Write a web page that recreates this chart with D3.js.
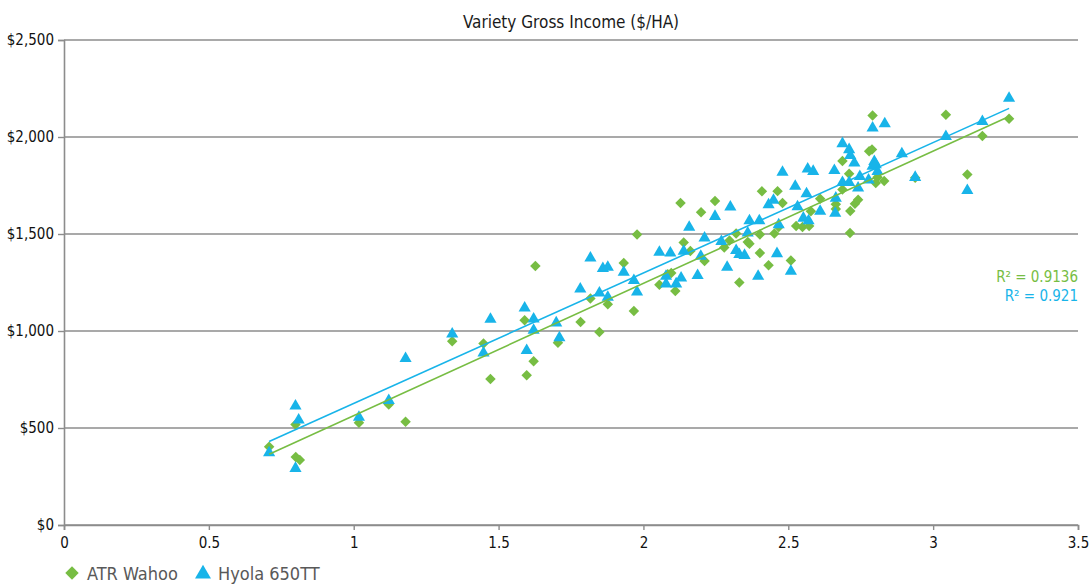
<!DOCTYPE html>
<html>
<head>
<meta charset="utf-8">
<script src="https://cdn.jsdelivr.net/npm/d3@7"></script>
<style>
  body { margin: 0; background: #fff; }
  svg text { font-family: "Liberation Sans Narrow", "DejaVu Sans Condensed", "Roboto", sans-serif; }
</style>
</head>
<body>
<div id="chart"></div>
<script>
// ATR Wahoo (x = yield-ish index, y = gross income $/HA)
var wahooX = [0.708,0.80,0.814,0.799,1.018,1.121,1.179,1.340,1.448,1.472,1.590,1.597,1.621,1.627,1.705,1.783,1.817,1.848,1.877,1.932,
  1.967,1.978,2.055,2.084,2.096,2.110,2.128,2.139,2.162,2.199,2.211,2.247,2.279,2.297,2.320,2.331,2.360,2.366,2.402,2.402,
  2.409,2.432,2.452,2.463,2.467,2.480,2.509,2.527,2.549,2.572,2.578,2.610,2.664,2.664,2.687,2.687,2.710,2.713,2.714,2.730,
  2.741,2.779,2.789,2.791,2.802,2.808,2.831,2.938,3.044,3.118,3.170,3.262];
var wahooY = [403,350,335,518,527,621,532,947,936,752,1056,772,844,1335,939,1047,1167,995,1138,1351,
  1103,1498,1239,1292,1299,1206,1660,1456,1412,1612,1361,1670,1430,1467,1502,1250,1459,1450,1498,1402,
  1720,1339,1502,1721,1536,1660,1364,1541,1536,1541,1617,1682,1653,1629,1876,1729,1811,1505,1618,1656,
  1677,1926,1936,2111,1763,1793,1773,1790,2115,1807,2005,2094];

// Hyola 650TT
var hyolaX = [0.708,0.799,0.810,0.799,1.018,1.121,1.179,1.340,1.448,1.472,1.590,1.597,1.621,1.621,1.699,1.710,1.782,1.817,1.848,1.860,
  1.877,1.877,1.932,1.967,1.978,2.055,2.078,2.093,2.113,2.130,2.139,2.158,2.187,2.198,2.211,2.247,2.269,2.289,2.300,2.320,
  2.331,2.349,2.360,2.366,2.396,2.400,2.461,2.467,2.432,2.449,2.480,2.509,2.524,2.532,2.552,2.563,2.567,2.570,2.586,2.610,
  2.659,2.662,2.664,2.687,2.687,2.710,2.714,2.710,2.728,2.741,2.747,2.777,2.791,2.791,2.797,2.802,2.808,2.833,2.892,2.938,
  3.044,3.118,3.170,3.262,2.078];
var hyolaY = [377,618,546,297,561,647,863,990,892,1066,1124,905,1067,1009,1047,970,1222,1381,1201,1327,
  1334,1179,1308,1265,1206,1411,1287,1407,1248,1278,1416,1540,1291,1390,1484,1596,1467,1334,1644,1420,
  1399,1395,1510,1574,1287,1574,1404,1553,1656,1679,1824,1313,1751,1646,1587,1713,1840,1574,1828,1622,
  1832,1612,1690,1971,1771,1940,1910,1771,1871,1742,1802,1783,2051,1854,1879,1862,1828,2074,1919,1797,
  2008,1729,2085,2205,1247];

var seriesNames = ["ATR Wahoo", "Hyola 650TT"];
var r2Labels = ["R\u00B2 = 0.9136", "R\u00B2 = 0.921"];
var xTicks = [0, 0.5, 1, 1.5, 2, 2.5, 3, 3.5];
var yTicks = [0, 500, 1000, 1500, 2000, 2500];
var chartTitle = "Variety Gross Income ($/HA)";

var svgWidth = 1090;
var svgHeight = 585;
var margin = { top: 40, right: 12, bottom: 60, left: 64 };
var width = svgWidth - margin.left - margin.right;
var height = svgHeight - margin.top - margin.bottom;

var green = "#77bd43";
var blue = "#18b4e9";
var gridColor = "#8c8c8c";

var svg = d3.select("#chart").append("svg")
  .attr("width", svgWidth)
  .attr("height", svgHeight);

var chartGroup = svg.append("g")
  .attr("transform", `translate(${margin.left}, ${margin.top})`);

var xScale = d3.scaleLinear().domain([0, 3.5]).range([0, width]);
var yScale = d3.scaleLinear().domain([0, 2500]).range([height, 0]);

// gridlines
chartGroup.append("g")
  .selectAll("line")
  .data(yTicks)
  .enter()
  .append("line")
  .attr("x1", 0)
  .attr("x2", width)
  .attr("y1", d => yScale(d))
  .attr("y2", d => yScale(d))
  .attr("stroke", gridColor)
  .attr("stroke-width", 1.6);

// axes
var leftAxis = d3.axisLeft(yScale).tickValues(yTicks).tickSize(6).tickPadding(4)
  .tickFormat(d => "$" + d3.format(",")(d));
var bottomAxis = d3.axisBottom(xScale).tickValues(xTicks).tickSize(5).tickPadding(4)
  .tickFormat(d => d);

var yAxisG = chartGroup.append("g").call(leftAxis);
var xAxisG = chartGroup.append("g").attr("transform", `translate(0,${height})`).call(bottomAxis);

[yAxisG, xAxisG].forEach(g => {
  g.select(".domain").attr("stroke", gridColor).attr("stroke-width", 1.6);
  g.selectAll(".tick line").attr("stroke", gridColor).attr("stroke-width", 1.4);
  g.selectAll("text").attr("fill", "#111").style("font-size", "15px");
});
xAxisG.selectAll("text").attr("dy", "0.9em");

// data
var wahoo = wahooX.map((x, i) => ({ x: x, y: wahooY[i] }));
var hyola = hyolaX.map((x, i) => ({ x: x, y: hyolaY[i] }));

var diamond = d3.symbol().type(d3.symbolSquare).size(55);
var triangle = d3.symbol().type(d3.symbolTriangle).size(64);

chartGroup.append("g").selectAll("path")
  .data(wahoo)
  .enter()
  .append("path")
  .attr("d", diamond)
  .attr("transform", d => `translate(${xScale(d.x)},${yScale(d.y)}) rotate(45)`)
  .attr("fill", green);

chartGroup.append("g").selectAll("path")
  .data(hyola)
  .enter()
  .append("path")
  .attr("d", triangle)
  .attr("transform", d => `translate(${xScale(d.x)},${yScale(d.y) + 1})`)
  .attr("fill", blue);

// linear trend lines (least squares)
function fitLine(pts) {
  var mx = d3.mean(pts, d => d.x), my = d3.mean(pts, d => d.y);
  var sxy = d3.sum(pts, d => (d.x - mx) * (d.y - my));
  var sxx = d3.sum(pts, d => (d.x - mx) * (d.x - mx));
  var b = sxy / sxx, a = my - b * mx;
  var ext = d3.extent(pts, d => d.x);
  return ext.map(x => ({ x: x, y: a + b * x }));
}

var line = d3.line().x(d => xScale(d.x)).y(d => yScale(d.y));

chartGroup.append("path")
  .datum(fitLine(wahoo))
  .attr("d", line)
  .attr("fill", "none")
  .attr("stroke", green)
  .attr("stroke-width", 1.6);

chartGroup.append("path")
  .datum(fitLine(hyola))
  .attr("d", line)
  .attr("fill", "none")
  .attr("stroke", blue)
  .attr("stroke-width", 1.6);

// R squared labels
chartGroup.append("text")
  .attr("x", width)
  .attr("y", 242)
  .attr("text-anchor", "end")
  .attr("fill", green)
  .style("font-size", "15px")
  .text(r2Labels[0]);

chartGroup.append("text")
  .attr("x", width)
  .attr("y", 261)
  .attr("text-anchor", "end")
  .attr("fill", blue)
  .style("font-size", "15px")
  .text(r2Labels[1]);

// title
svg.append("text")
  .attr("x", margin.left + width / 2)
  .attr("y", 28)
  .attr("text-anchor", "middle")
  .attr("fill", "#1a1a1a")
  .style("font-size", "17px")
  .text(chartTitle);

// legend
var legend = svg.append("g").attr("transform", "translate(72, 573)");
legend.append("path")
  .attr("d", d3.symbol().type(d3.symbolSquare).size(90))
  .attr("transform", "rotate(45)")
  .attr("fill", green);
legend.append("text")
  .attr("x", 15).attr("y", 7)
  .attr("fill", "#595959")
  .style("font-size", "18px")
  .text(seriesNames[0]);
legend.append("path")
  .attr("d", d3.symbol().type(d3.symbolTriangle).size(110))
  .attr("transform", "translate(131, 1)")
  .attr("fill", blue);
legend.append("text")
  .attr("x", 146).attr("y", 7)
  .attr("fill", "#595959")
  .style("font-size", "18px")
  .text(seriesNames[1]);
</script>
</body>
</html>
